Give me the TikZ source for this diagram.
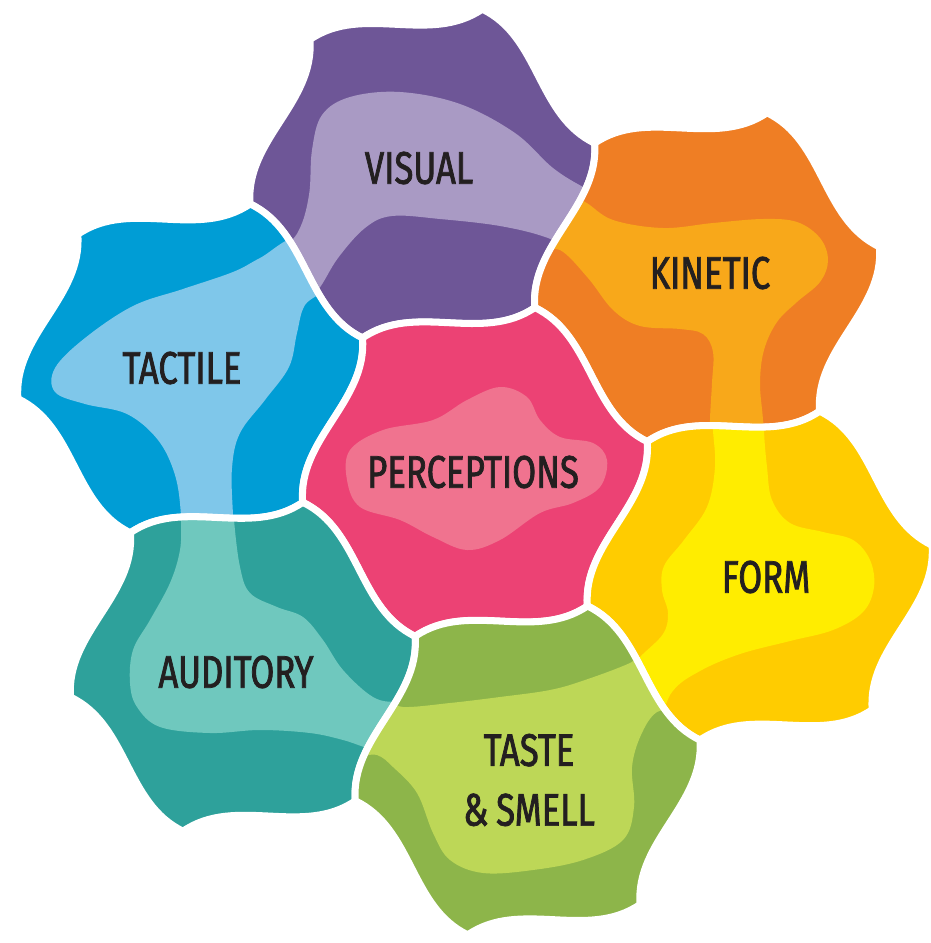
\documentclass[tikz,border=0pt]{standalone}
\usepackage{fontspec}
\newfontfamily\handfont[FakeStretch=0.76, FakeBold=1.6]{Fira Sans}
\usetikzlibrary{calc}

\definecolor{ink}{HTML}{231F20}
\definecolor{visdark}{HTML}{6E5697}
\definecolor{vislight}{HTML}{A99AC4}
\definecolor{kindark}{HTML}{EF7E24}
\definecolor{kinlight}{HTML}{F8A81A}
\definecolor{tacdark}{HTML}{009DD5}
\definecolor{taclight}{HTML}{7FC7EA}
\definecolor{percdark}{HTML}{EC4274}
\definecolor{perclight}{HTML}{F0738F}
\definecolor{formdark}{HTML}{FFCC00}
\definecolor{formlight}{HTML}{FFED00}
\definecolor{auddark}{HTML}{2EA19B}
\definecolor{audlight}{HTML}{6FC8BE}
\definecolor{tastedark}{HTML}{8DB54A}
\definecolor{tastelight}{HTML}{BDD757}

% wavy hexagon round the origin
\newcommand{\blobpath}{(-10:175) \foreach \a in {-10,50,110,170,230,290}{
  .. controls (\a+20.7:180.5) and (\a+43.2:128.5) .. (\a+60:175)} -- cycle}

% #1 centre, #2 base colour, #3 light colour, #4 light shape
\newcommand{\petal}[4]{
  \begin{scope}
    \clip[shift={(#1)}] \blobpath;
    \fill[#2] (0,0) rectangle (930,943);
    \fill[#3] plot[smooth cycle, tension=0.6] coordinates {#4};
  \end{scope}
  \draw[gap, shift={(#1)}] \blobpath;
}

\begin{document}
\begin{tikzpicture}[x=0.02cm, y=-0.02cm,
    gap/.style={draw=white, line width=4pt, line join=round},
    sense/.style={text=ink, align=center, inner sep=0pt,
      font=\handfont\fontsize{26}{34}\selectfont}]
  \useasboundingbox (0,0) rectangle (930,943);

  \coordinate (perc) at (475,472);
  \coordinate (vis) at ($(perc)+(260:303)$);
  \coordinate (kin) at ($(perc)+(320:303)$);
  \coordinate (form) at ($(perc)+(20:303)$);
  \coordinate (taste) at ($(perc)+(80:303)$);
  \coordinate (aud) at ($(perc)+(140:303)$);
  \coordinate (tac) at ($(perc)+(200:303)$);

  \petal{vis}{visdark}{vislight}{(270,270) (298,232) (309,195) (312,150)
    (322,115) (350,97) (400,92) (460,104) (515,133) (553,168) (585,188)
    (612,200) (588,258) (548,238) (500,226) (440,219) (392,216) (365,228)
    (338,258) (318,290) (295,312)}
  \petal{kin}{kindark}{kinlight}{(560,193) (585,202) (613,220) (663,228)
    (713,223) (763,219) (797,222) (820,238) (828,260) (820,282) (797,302)
    (777,322) (764,350) (760,383) (763,420) (765,460) (710,460) (710,420)
    (712,383) (713,352) (703,334) (680,329) (640,326) (613,310) (588,278)
    (560,250) (535,250)}
  \petal{tac}{tacdark}{taclight}{(300,238) (260,258) (233,272) (183,289)
    (133,306) (85,338) (55,368) (55,392) (85,404) (127,414) (158,440)
    (175,475) (181,515) (182,560) (236,560) (233,515) (232,468) (240,433)
    (265,400) (289,367) (297,333) (305,305) (328,282)}
  \petal{perc}{percdark}{perclight}{(350,450) (383,430) (433,420) (467,400)
    (500,387) (527,397) (540,420) (560,437) (593,443) (607,460) (600,487)
    (573,503) (540,513) (500,540) (467,550) (433,537) (400,520) (360,507)
    (347,480)}
  \petal{form}{formdark}{formlight}{(712,400) (765,400) (764,430) (767,467)
    (772,500) (790,523) (823,532) (853,540) (870,560) (874,587) (863,612)
    (833,630) (790,641) (740,654) (700,671) (672,692) (650,735) (620,680)
    (640,657) (663,634) (668,613) (662,590) (664,566) (684,540) (707,507)
    (715,467) (713,430)}
  \petal{aud}{auddark}{audlight}{(180,490) (233,490) (234,520) (240,567)
    (250,593) (277,607) (303,617) (323,640) (343,670) (373,697) (398,702)
    (430,700) (420,765) (367,748) (343,740) (310,733) (260,730) (210,733)
    (160,727) (137,707) (130,683) (133,650) (150,620) (170,583) (180,550)
    (181,520)}
  \petal{taste}{tastedark}{tastelight}{(380,700) (403,707) (450,703)
    (500,697) (550,690) (585,680) (630,663) (655,648) (685,705) (657,712)
    (641,735) (632,767) (634,807) (623,840) (583,860) (533,870) (483,873)
    (450,860) (433,833) (417,793) (393,767) (377,755) (352,752)}

  \node[sense] (visual) at (419,168) {VISUAL};
  \node[sense] (kinetic) at (710,273) {KINETIC};
  \node[sense] (tactile) at (182,368) {TACTILE};
  \node[sense] (perceptions) at (473,472) {PERCEPTIONS};
  \node[sense] (formlabel) at (766,577) {FORM};
  \node[sense] (auditory) at (236,672) {AUDITORY};
  \node[sense] (tastesmell) at (529,780) {TASTE\\\&\,SMELL};
\end{tikzpicture}
\end{document}
